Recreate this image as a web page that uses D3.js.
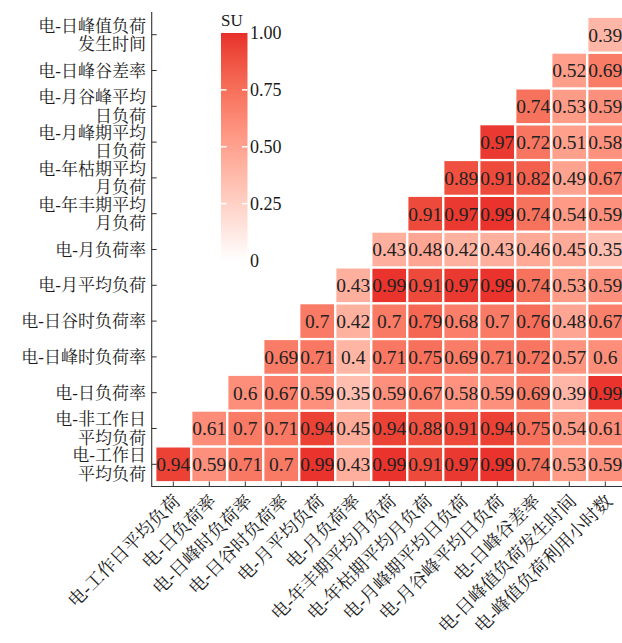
<!DOCTYPE html>
<html><head><meta charset="utf-8">
<script src="https://cdn.jsdelivr.net/npm/d3@7"></script>
<style>
body{margin:0;background:#fff;}
text{font-family:"Liberation Serif","Noto Serif CJK SC","Noto Sans CJK SC",serif;}
</style></head>
<body><svg id="c" width="622" height="643"></svg>
<script>
// columns (x axis, left to right)
const xCategories = ["电-工作日平均负荷","电-日负荷率","电-日峰时负荷率","电-日谷时负荷率","电-月平均负荷","电-月负荷率","电-年丰期平均月负荷","电-年枯期平均月负荷","电-月峰期平均日负荷","电-月谷峰平均日负荷","电-日峰谷差率","电-日峰值负荷发生时间","电-峰值负荷利用小时数"];
// rows (y axis, bottom to top); "\n" marks a line break
const yCategories = ["电-工作日\n平均负荷","电-非工作日\n平均负荷","电-日负荷率","电-日峰时负荷率","电-日谷时负荷率","电-月平均负荷","电-月负荷率","电-年丰期平均\n月负荷","电-年枯期平均\n月负荷","电-月峰期平均\n日负荷","电-月谷峰平均\n日负荷","电-日峰谷差率","电-日峰值负荷\n发生时间"];
// values per row (bottom to top); row r starts at column r
const row0  = [0.94,0.59,0.71,0.7,0.99,0.43,0.99,0.91,0.97,0.99,0.74,0.53,0.59];
const row1  = [0.61,0.7,0.71,0.94,0.45,0.94,0.88,0.91,0.94,0.75,0.54,0.61];
const row2  = [0.6,0.67,0.59,0.35,0.59,0.67,0.58,0.59,0.69,0.39,0.99];
const row3  = [0.69,0.71,0.4,0.71,0.75,0.69,0.71,0.72,0.57,0.6];
const row4  = [0.7,0.42,0.7,0.79,0.68,0.7,0.76,0.48,0.67];
const row5  = [0.43,0.99,0.91,0.97,0.99,0.74,0.53,0.59];
const row6  = [0.43,0.48,0.42,0.43,0.46,0.45,0.35];
const row7  = [0.91,0.97,0.99,0.74,0.54,0.59];
const row8  = [0.89,0.91,0.82,0.49,0.67];
const row9  = [0.97,0.72,0.51,0.58];
const row10 = [0.74,0.53,0.59];
const row11 = [0.52,0.69];
const row12 = [0.39];
const rows = [row0,row1,row2,row3,row4,row5,row6,row7,row8,row9,row10,row11,row12];
const legendTicks = [0,0.25,0.5,0.75,1];
const legendTitle = "SU";

const cells = [];
rows.forEach((vals,r)=>vals.forEach((v,i)=>cells.push({r, c:r+i, v})));

const svg = d3.select("#c");
const x = d3.scaleBand().domain(xCategories).range([155.3,623.3]);
const y = d3.scaleBand().domain(yCategories).range([482.2,16.8]);
const interp = d3.interpolateLab("#ffffff","#e82f2a");
const color = v => interp(v);
const fmt = v => String(+v.toFixed(2));
const yTop = d => Math.min(y(d), y(d)+y.bandwidth());

// cells
svg.append("g").selectAll("rect").data(cells).join("rect")
  .attr("x", d=>x(xCategories[d.c]))
  .attr("y", d=>yTop(yCategories[d.r]))
  .attr("width", x.bandwidth()).attr("height", y.bandwidth())
  .attr("fill", d=>color(d.v)).attr("stroke","#fff").attr("stroke-width",2.2);

svg.append("g").selectAll("text").data(cells).join("text")
  .attr("x", d=>x(xCategories[d.c])+x.bandwidth()/2)
  .attr("y", d=>yTop(yCategories[d.r])+y.bandwidth()/2)
  .attr("text-anchor","middle").attr("dy","0.35em")
  .attr("font-size","19.5px").attr("fill","#222")
  .text(d=>fmt(d.v));

// axes
const axCol = "#333";
const gx = svg.append("g").attr("transform","translate(0,486.5)")
  .call(d3.axisBottom(x).tickSize(-5).tickSizeOuter(0).tickFormat(""));
gx.select(".domain").remove();
gx.selectAll(".tick line").attr("stroke",axCol);
const gy = svg.append("g").attr("transform","translate(151.7,0)")
  .call(d3.axisLeft(y).tickSize(-5).tickSizeOuter(0).tickFormat(""));
gy.select(".domain").remove();
gy.selectAll(".tick line").attr("stroke",axCol);
svg.append("path").attr("d","M151.7,12V486.5H630").attr("fill","none").attr("stroke",axCol).attr("stroke-width",1.1);

// y labels
svg.append("g").selectAll("text").data(yCategories).join("text")
  .attr("text-anchor","end").attr("font-size","17px").attr("fill","#1a1a1a")
  .each(function(d){
    const lines = d.split("\n");
    const cy = yTop(d)+y.bandwidth()/2;
    const t = d3.select(this);
    lines.forEach((ln,i)=>{
      t.append("tspan").attr("x",146)
        .attr("y", cy + (i-(lines.length-1)/2)*18.5)
        .attr("dy","0.36em").text(ln);
    });
  });

// x labels
svg.append("g").selectAll("text").data(xCategories).join("text")
  .attr("transform", d=>`translate(${x(d)+x.bandwidth()/2-2},492) rotate(-45)`)
  .attr("text-anchor","end").attr("dy","0.8em")
  .attr("font-size","18px").attr("fill","#1a1a1a")
  .text(d=>d);

// legend
const ly = d3.scaleLinear().domain([0,1]).range([260.5,33]);
const defs = svg.append("defs");
const grad = defs.append("linearGradient").attr("id","lg").attr("x1",0).attr("y1",1).attr("x2",0).attr("y2",0);
d3.range(0,1.0001,0.05).forEach(t=>grad.append("stop").attr("offset",t).attr("stop-color",color(t)));
const lx = 221, lw = 26.5;
svg.append("rect").attr("x",lx).attr("y",ly(1)).attr("width",lw).attr("height",ly(0)-ly(1)).attr("fill","url(#lg)");
const lg = svg.append("g");
legendTicks.forEach(t=>{
  if(t>0 && t<1){
    lg.append("line").attr("x1",lx).attr("x2",lx+5.5).attr("y1",ly(t)).attr("y2",ly(t)).attr("stroke","#fff").attr("stroke-width",1.5);
    lg.append("line").attr("x1",lx+lw-5.5).attr("x2",lx+lw).attr("y1",ly(t)).attr("y2",ly(t)).attr("stroke","#fff").attr("stroke-width",1.5);
  }
  lg.append("text").attr("x",250).attr("y",ly(t)).attr("dy","0.35em")
    .attr("font-size","18px").attr("fill","#1a1a1a")
    .text(t===0?"0":d3.format(".2f")(t));
});
svg.append("text").attr("x",lx).attr("y",26).attr("font-size","17px").attr("fill","#1a1a1a").text(legendTitle);
</script></body></html>
